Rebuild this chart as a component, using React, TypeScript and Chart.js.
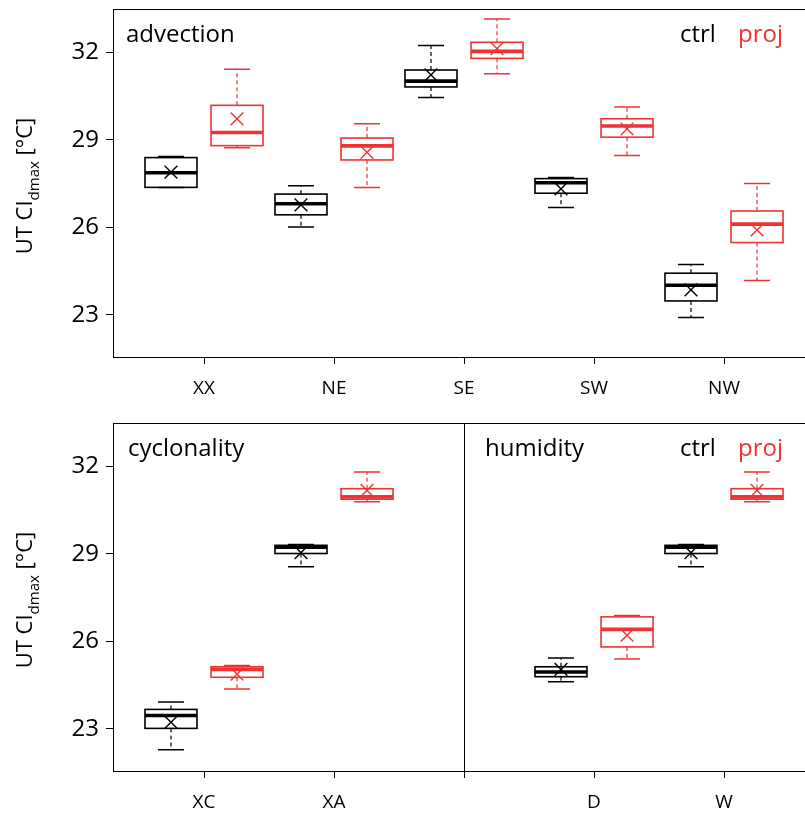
import React, { useEffect, useRef } from 'react';
import { Chart, registerables } from 'chart.js';

Chart.register(...registerables);

const FONT = '"Open Sans", "Noto Sans", sans-serif';
const CTRL_COLOR = '#000000';
const PROJ_COLOR = '#ee3333';

// ---------- data ----------
const topLabels = ['XX', 'NE', 'SE', 'SW', 'NW'];
const bottomLabels = ['XC', 'XA', '', 'D', 'W'];
const yTickValues = [23, 26, 29, 32];
const Y_MIN = 21.56;
const Y_MAX = 33.48;

// advection, ctrl
const topCtrlLow = [27.37, 26.01, 30.45, 26.68, 22.91];
const topCtrlQ1 = [27.37, 26.43, 30.81, 27.17, 23.48];
const topCtrlMed = [27.87, 26.81, 31.01, 27.53, 24.02];
const topCtrlQ3 = [28.39, 27.14, 31.39, 27.67, 24.43];
const topCtrlHigh = [28.43, 27.43, 32.23, 27.71, 24.73];
const topCtrlMean = [27.89, 26.77, 31.22, 27.32, 23.86];

// advection, proj
const topProjLow = [28.73, 27.37, 31.26, 28.46, 24.18];
const topProjQ1 = [28.8, 28.31, 31.79, 29.09, 25.48];
const topProjMed = [29.25, 28.79, 32.03, 29.47, 26.11];
const topProjQ3 = [30.18, 29.06, 32.34, 29.72, 26.56];
const topProjHigh = [31.42, 29.55, 33.14, 30.12, 27.5];
const topProjMean = [29.72, 28.57, 32.12, 29.37, 25.91];

// cyclonality (XC, XA) + humidity (D, W), ctrl
const botCtrlLow = [22.29, 28.56, null, 24.62, 28.56];
const botCtrlQ1 = [23.02, 29.01, null, 24.79, 29.01];
const botCtrlMed = [23.46, 29.23, null, 24.95, 29.23];
const botCtrlQ3 = [23.67, 29.29, null, 25.13, 29.29];
const botCtrlHigh = [23.92, 29.32, null, 25.43, 29.32];
const botCtrlMean = [23.23, 29.04, null, 25.04, 29.04];

// cyclonality (XC, XA) + humidity (D, W), proj
const botProjLow = [24.37, 30.78, null, 25.4, 30.78];
const botProjQ1 = [24.77, 30.87, null, 25.81, 30.87];
const botProjMed = [25.04, 30.95, null, 26.41, 30.95];
const botProjQ3 = [25.13, 31.23, null, 26.84, 31.23];
const botProjHigh = [25.17, 31.8, null, 26.89, 31.8];
const botProjMean = [24.88, 31.17, null, 26.21, 31.17];

// ---------- layout constants ----------
const SERIES_OFFSET = 0.254;
const BOX_HALF = 0.2;
const CAP_HALF = 0.1;

type Series = {
  color: string;
  offset: number;
  low: (number | null)[];
  q1: (number | null)[];
  med: (number | null)[];
  q3: (number | null)[];
  high: (number | null)[];
  mean: (number | null)[];
};

const topSeries: Series[] = [
  { color: CTRL_COLOR, offset: -SERIES_OFFSET, low: topCtrlLow, q1: topCtrlQ1, med: topCtrlMed, q3: topCtrlQ3, high: topCtrlHigh, mean: topCtrlMean },
  { color: PROJ_COLOR, offset: SERIES_OFFSET, low: topProjLow, q1: topProjQ1, med: topProjMed, q3: topProjQ3, high: topProjHigh, mean: topProjMean },
];
const bottomSeries: Series[] = [
  { color: CTRL_COLOR, offset: -SERIES_OFFSET, low: botCtrlLow, q1: botCtrlQ1, med: botCtrlMed, q3: botCtrlQ3, high: botCtrlHigh, mean: botCtrlMean },
  { color: PROJ_COLOR, offset: SERIES_OFFSET, low: botProjLow, q1: botProjQ1, med: botProjMed, q3: botProjQ3, high: botProjHigh, mean: botProjMean },
];

type PanelText = { text: string; x: number; y: number; color: string };

type PanelCfg = {
  labels: string[];
  series: Series[];
  width: number;
  height: number;
  padTop: number;
  xAxisHeight: number;
  texts: PanelText[];
  divider: boolean;
};

function makeChart(canvas: HTMLCanvasElement, cfg: PanelCfg) {
  const boxPlugin = {
    id: 'boxes',
    beforeDatasetsDraw(chart: any) {
      const { ctx, scales } = chart;
      const x = scales.x;
      const y = scales.y;
      cfg.series.forEach((s) => {
        for (let i = 0; i < s.med.length; i++) {
          if (s.med[i] == null) continue;
          const xc = x.getPixelForValue(i + s.offset);
          const xl = x.getPixelForValue(i + s.offset - BOX_HALF);
          const xr = x.getPixelForValue(i + s.offset + BOX_HALF);
          const cl = x.getPixelForValue(i + s.offset - CAP_HALF);
          const cr = x.getPixelForValue(i + s.offset + CAP_HALF);
          const yLow = y.getPixelForValue(s.low[i] as number);
          const yQ1 = y.getPixelForValue(s.q1[i] as number);
          const yMed = y.getPixelForValue(s.med[i] as number);
          const yQ3 = y.getPixelForValue(s.q3[i] as number);
          const yHigh = y.getPixelForValue(s.high[i] as number);
          ctx.save();
          ctx.strokeStyle = s.color;
          // whiskers (dashed)
          ctx.lineWidth = 1.2;
          ctx.setLineDash([4, 3]);
          ctx.beginPath();
          ctx.moveTo(xc, yQ3);
          ctx.lineTo(xc, yHigh);
          ctx.moveTo(xc, yQ1);
          ctx.lineTo(xc, yLow);
          ctx.stroke();
          ctx.setLineDash([]);
          // caps
          ctx.lineWidth = 1.5;
          ctx.beginPath();
          ctx.moveTo(cl, yHigh);
          ctx.lineTo(cr, yHigh);
          ctx.moveTo(cl, yLow);
          ctx.lineTo(cr, yLow);
          ctx.stroke();
          // box
          ctx.lineWidth = 1.6;
          ctx.strokeRect(xl, yQ3, xr - xl, yQ1 - yQ3);
          // median
          ctx.lineWidth = 3.6;
          ctx.beginPath();
          ctx.moveTo(xl, yMed);
          ctx.lineTo(xr, yMed);
          ctx.stroke();
          ctx.restore();
        }
      });
    },
    afterDraw(chart: any) {
      const { ctx, chartArea, scales } = chart;
      ctx.save();
      ctx.strokeStyle = '#000';
      ctx.lineWidth = 1;
      // top frame line
      ctx.beginPath();
      ctx.moveTo(chartArea.left, chartArea.top + 0.5);
      ctx.lineTo(chartArea.right, chartArea.top + 0.5);
      if (cfg.divider) {
        const xd = Math.round(scales.x.getPixelForValue(2)) + 0.5;
        ctx.moveTo(xd, chartArea.top);
        ctx.lineTo(xd, chartArea.bottom);
      }
      ctx.stroke();
      // panel texts
      ctx.font = `24px ${FONT}`;
      ctx.textBaseline = 'alphabetic';
      ctx.textAlign = 'left';
      cfg.texts.forEach((t) => {
        ctx.fillStyle = t.color;
        ctx.fillText(t.text, t.x, t.y);
      });
      // y-axis title with subscript
      const mainFont = `22px ${FONT}`;
      const subFont = `15px ${FONT}`;
      const p1 = 'UT CI';
      const p2 = 'dmax';
      const p3 = ' [°C]';
      ctx.font = mainFont;
      const w1 = ctx.measureText(p1).width;
      const w3 = ctx.measureText(p3).width;
      ctx.font = subFont;
      const w2 = ctx.measureText(p2).width;
      const total = w1 + w2 + w3;
      const cy = (chartArea.top + chartArea.bottom) / 2 + 3;
      ctx.translate(32, cy);
      ctx.rotate(-Math.PI / 2);
      ctx.fillStyle = '#000';
      let pos = -total / 2;
      ctx.font = mainFont;
      ctx.fillText(p1, pos, 0);
      pos += w1;
      ctx.font = subFont;
      ctx.fillText(p2, pos, 7);
      pos += w2;
      ctx.font = mainFont;
      ctx.fillText(p3, pos, 0);
      ctx.restore();
    },
  };

  const meanDatasets = cfg.series.map((s) => ({
    type: 'scatter' as const,
    data: s.mean
      .map((v, i) => (v == null ? null : { x: i + s.offset, y: v }))
      .filter((p) => p !== null),
    pointStyle: 'crossRot' as const,
    radius: 9,
    borderColor: s.color,
    backgroundColor: s.color,
    borderWidth: 1.4,
  }));

  return new Chart(canvas, {
    type: 'scatter',
    data: { datasets: meanDatasets as any },
    options: {
      animation: false,
      responsive: false,
      devicePixelRatio: 1,
      layout: { autoPadding: false, padding: { top: cfg.padTop, left: 0, right: 0, bottom: 0 } },
      plugins: { legend: { display: false }, tooltip: { enabled: false } },
      events: [],
      scales: {
        x: {
          type: 'linear',
          min: -0.7,
          max: 4.623,
          afterBuildTicks: (scale: any) => {
            scale.ticks = cfg.labels.map((_, i) => ({ value: i }));
          },
          afterFit: (scale: any) => {
            scale.height = cfg.xAxisHeight;
            scale.paddingLeft = 0;
            scale.paddingRight = 0;
          },
          ticks: {
            autoSkip: false,
            maxRotation: 0,
            padding: 13,
            color: '#000',
            font: { family: FONT, size: 19 },
            callback: (_v: any, i: number) => cfg.labels[i] ?? '',
          },
          grid: { drawOnChartArea: false, drawTicks: true, tickLength: 7, color: '#000', lineWidth: 1 },
          border: { display: true, color: '#000', width: 1 },
        },
        y: {
          type: 'linear',
          min: Y_MIN,
          max: Y_MAX,
          afterBuildTicks: (scale: any) => {
            scale.ticks = yTickValues.map((v) => ({ value: v }));
          },
          afterFit: (scale: any) => {
            scale.width = 113;
            scale.paddingTop = 0;
            scale.paddingBottom = 0;
          },
          ticks: {
            padding: 7,
            color: '#000',
            font: { family: FONT, size: 24 },
            callback: (v: any) => String(v),
          },
          grid: { drawOnChartArea: false, drawTicks: true, tickLength: 7, color: '#000', lineWidth: 1 },
          border: { display: true, color: '#000', width: 1 },
        },
      },
    } as any,
    plugins: [boxPlugin],
  });
}

const topCfg: PanelCfg = {
  labels: topLabels,
  series: topSeries,
  width: 805,
  height: 410,
  padTop: 9,
  xAxisHeight: 53,
  divider: false,
  texts: [
    { text: 'advection', x: 126, y: 42, color: CTRL_COLOR },
    { text: 'ctrl', x: 680, y: 42, color: CTRL_COLOR },
    { text: 'proj', x: 738, y: 42, color: PROJ_COLOR },
  ],
};

const bottomCfg: PanelCfg = {
  labels: bottomLabels,
  series: bottomSeries,
  width: 805,
  height: 404,
  padTop: 13,
  xAxisHeight: 43,
  divider: true,
  texts: [
    { text: 'cyclonality', x: 128, y: 46, color: CTRL_COLOR },
    { text: 'humidity', x: 485, y: 46, color: CTRL_COLOR },
    { text: 'ctrl', x: 680, y: 46, color: CTRL_COLOR },
    { text: 'proj', x: 738, y: 46, color: PROJ_COLOR },
  ],
};

function Panel({ cfg, top }: { cfg: PanelCfg; top: number }) {
  const ref = useRef<HTMLCanvasElement | null>(null);
  useEffect(() => {
    if (!ref.current) return;
    const chart = makeChart(ref.current, cfg);
    return () => chart.destroy();
  }, [cfg]);
  return (
    <canvas
      ref={ref}
      width={cfg.width}
      height={cfg.height}
      style={{ position: 'absolute', left: 0, top, width: cfg.width, height: cfg.height }}
    />
  );
}

export default function App() {
  return (
    <div style={{ position: 'fixed', left: 0, top: 0, width: 805, height: 814, background: '#fff', overflow: 'hidden' }}>
      <Panel cfg={topCfg} top={0} />
      <Panel cfg={bottomCfg} top={410} />
    </div>
  );
}
